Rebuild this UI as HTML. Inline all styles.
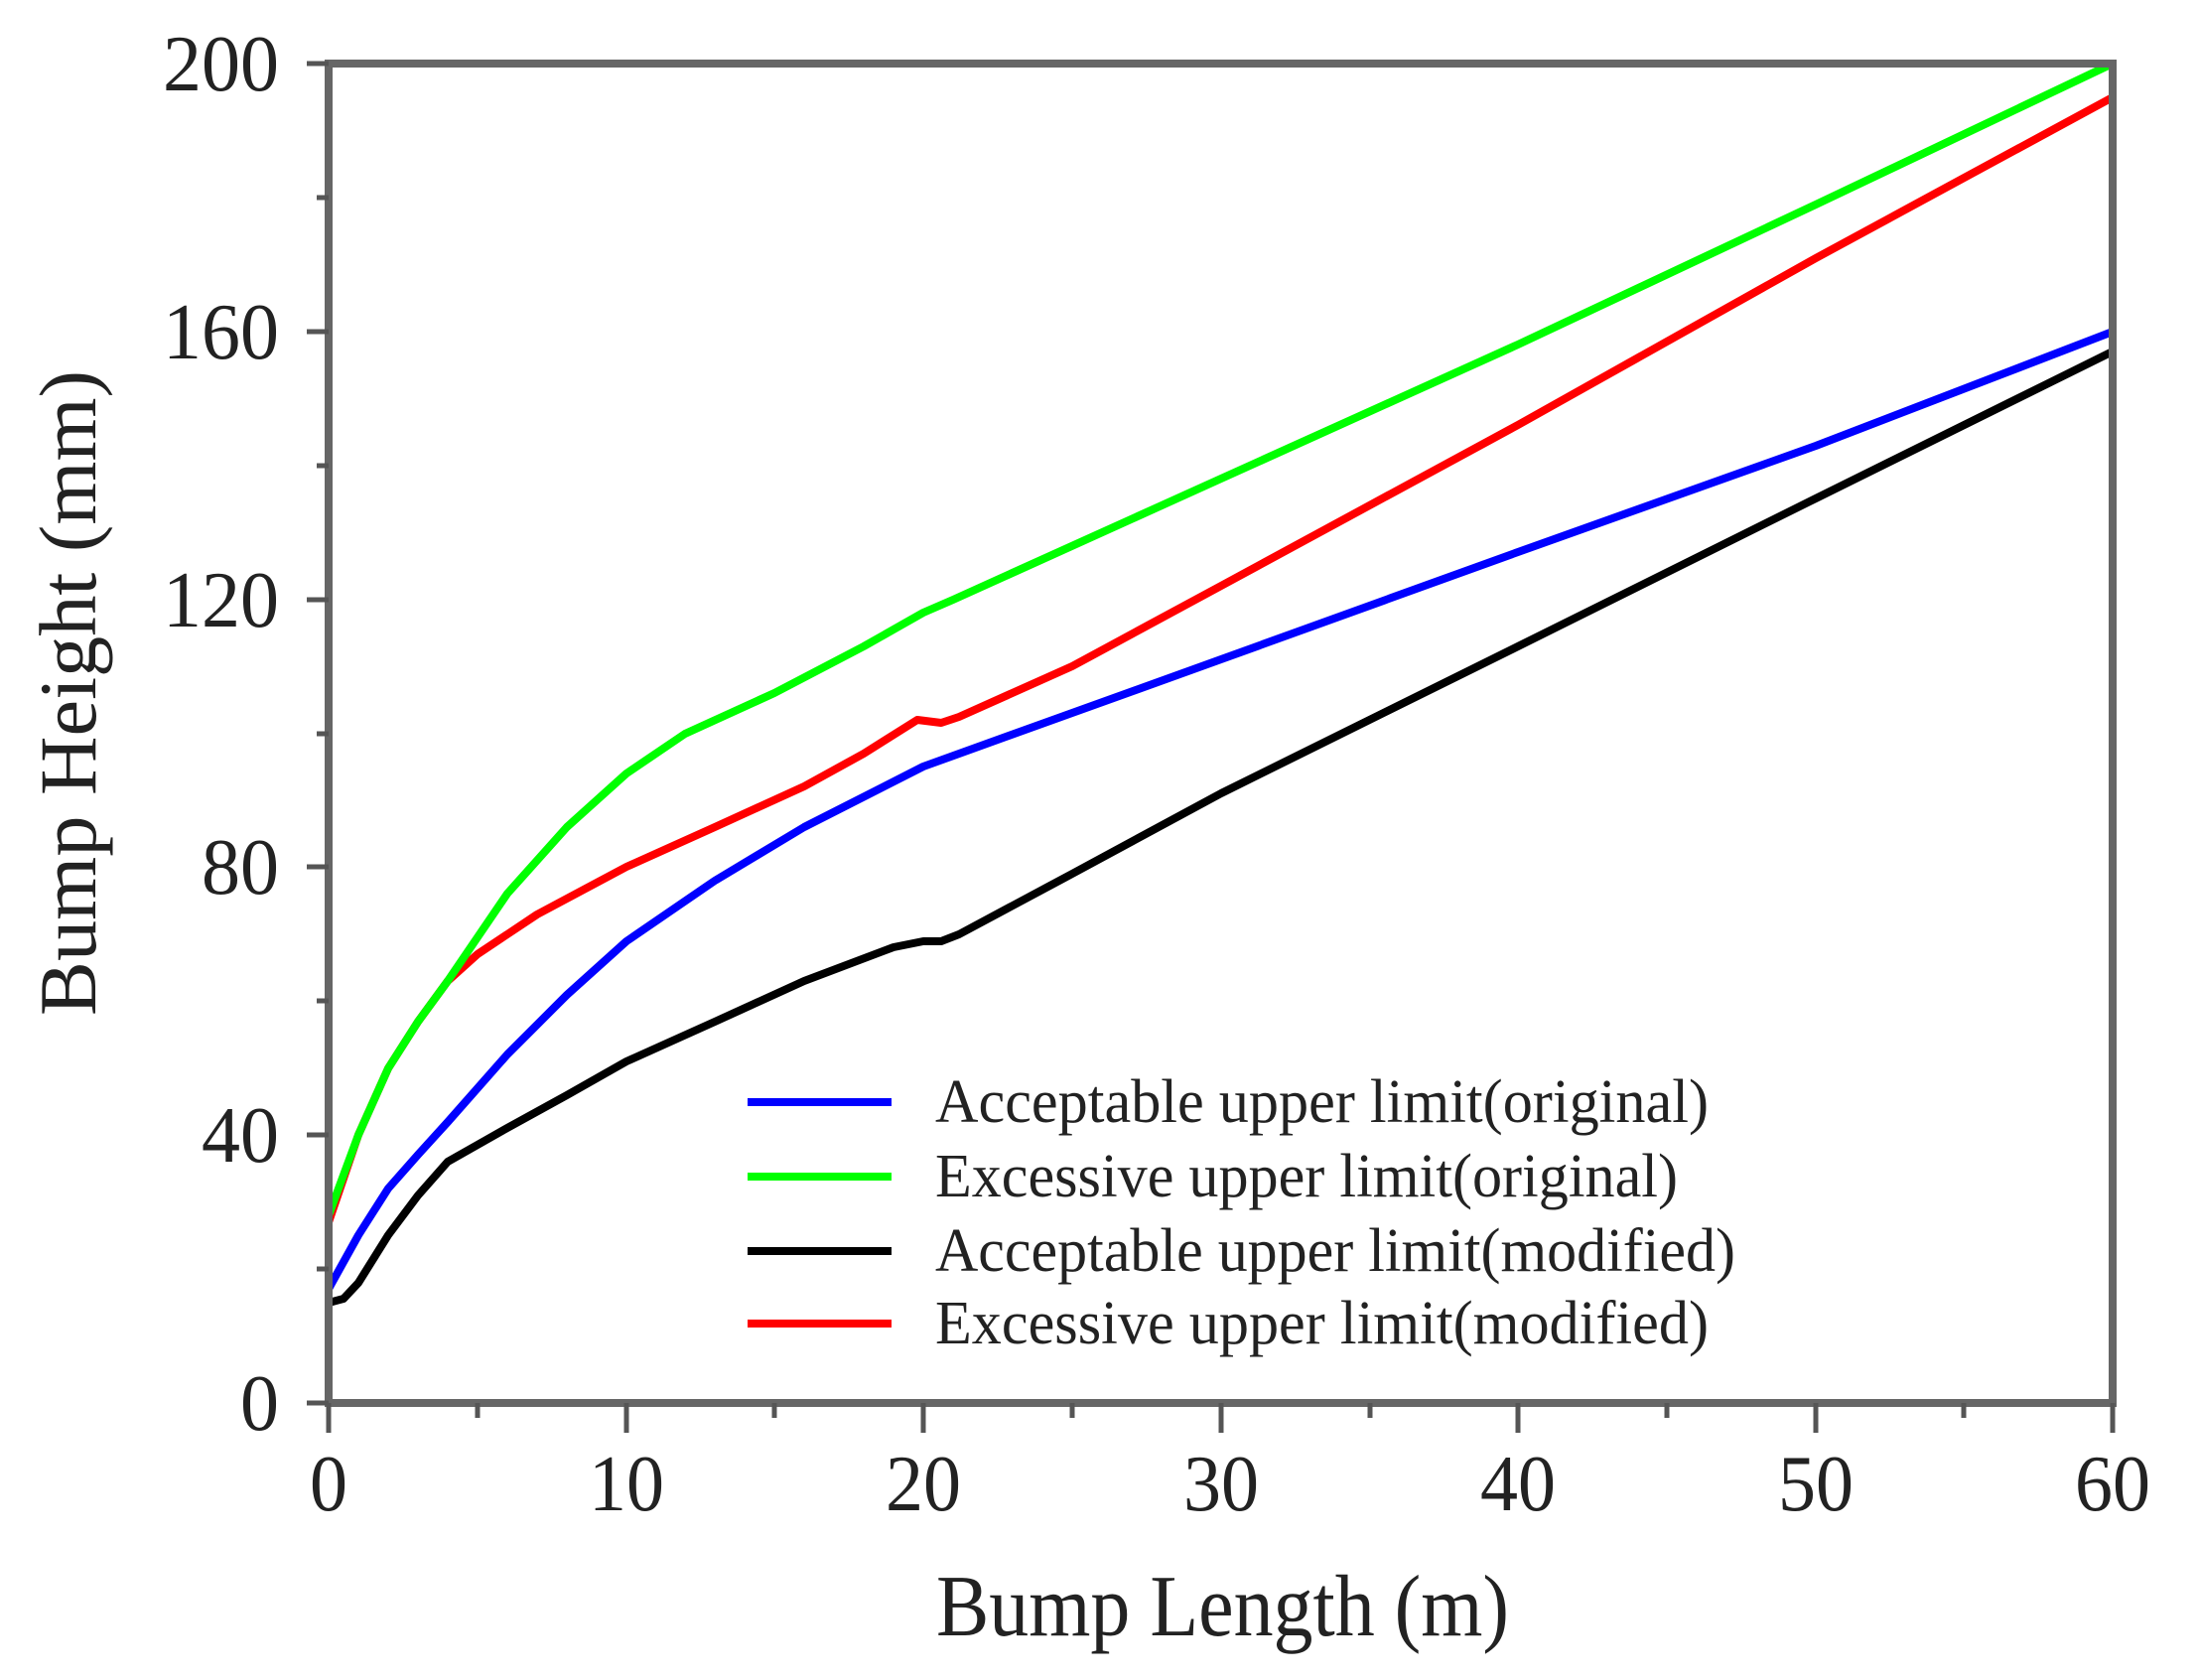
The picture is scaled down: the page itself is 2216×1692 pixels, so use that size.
<!DOCTYPE html>
<html><head><meta charset="utf-8"><style>
html,body{margin:0;padding:0;background:#fff;}
svg{display:block;}
text{font-family:"Liberation Serif",serif;fill:#222;}
</style></head><body>
<svg width="2216" height="1692" viewBox="0 0 2216 1692" xmlns="http://www.w3.org/2000/svg">
<rect width="2216" height="1692" fill="#fff"/>
<g fill="none" stroke-width="8" stroke-linejoin="round" stroke-linecap="round">
<path stroke="#0000ff" d="M331 1298 L361 1244 L391 1197 L421 1163 L451 1130 L511 1062 L571 1002 L631 948 L720 887 L810 833 L930 772 L1080 718 L1230 664 L1529 556 L1829 449 L2128 334"/>
<path stroke="#000000" d="M331 1312 L346 1308 L361 1292 L391 1244 L421 1204 L451 1170 L511 1136 L571 1103 L631 1069 L720 1029 L810 988 L900 954 L930 948 L948 948 L966 941 L1080 880 L1230 799 L1529 651 L1829 502 L2128 354"/>
<path stroke="#ff0000" d="M331 1231 L361 1143 L391 1076 L421 1029 L451 988 L481 961 L541 921 L631 873 L720 833 L810 792 L870 759 L924 725 L948 728 L966 722 L1080 671 L1230 590 L1529 428 L1829 260 L2128 98"/>
<path stroke="#00ff00" d="M331 1224 L361 1143 L391 1076 L421 1029 L451 988 L511 900 L571 833 L631 779 L690 739 L780 698 L870 651 L930 617 L960 604 L1230 482 L1529 347 L1829 206 L2128 64"/>
</g>
<rect x="331" y="64" width="1797" height="1349" fill="none" stroke="#666" stroke-width="8"/>
<g stroke="#555" stroke-width="5">
<line x1="331" y1="1413" x2="331" y2="1443"/><line x1="631" y1="1413" x2="631" y2="1443"/><line x1="930" y1="1413" x2="930" y2="1443"/><line x1="1230" y1="1413" x2="1230" y2="1443"/><line x1="1529" y1="1413" x2="1529" y2="1443"/><line x1="1829" y1="1413" x2="1829" y2="1443"/><line x1="2128" y1="1413" x2="2128" y2="1443"/>
<line x1="481" y1="1413" x2="481" y2="1428"/><line x1="780" y1="1413" x2="780" y2="1428"/><line x1="1080" y1="1413" x2="1080" y2="1428"/><line x1="1380" y1="1413" x2="1380" y2="1428"/><line x1="1679" y1="1413" x2="1679" y2="1428"/><line x1="1978" y1="1413" x2="1978" y2="1428"/>
<line x1="331" y1="1413" x2="309" y2="1413"/><line x1="331" y1="1143" x2="309" y2="1143"/><line x1="331" y1="873" x2="309" y2="873"/><line x1="331" y1="604" x2="309" y2="604"/><line x1="331" y1="334" x2="309" y2="334"/><line x1="331" y1="64" x2="309" y2="64"/>
<line x1="331" y1="1278" x2="319" y2="1278"/><line x1="331" y1="1008" x2="319" y2="1008"/><line x1="331" y1="739" x2="319" y2="739"/><line x1="331" y1="469" x2="319" y2="469"/><line x1="331" y1="199" x2="319" y2="199"/>
</g>
<g font-size="80" text-anchor="middle">
<text x="331" y="1521" textLength="38" lengthAdjust="spacingAndGlyphs">0</text>
<text x="631" y="1521" textLength="76" lengthAdjust="spacingAndGlyphs">10</text>
<text x="930" y="1521" textLength="76" lengthAdjust="spacingAndGlyphs">20</text>
<text x="1230" y="1521" textLength="76" lengthAdjust="spacingAndGlyphs">30</text>
<text x="1529" y="1521" textLength="76" lengthAdjust="spacingAndGlyphs">40</text>
<text x="1829" y="1521" textLength="76" lengthAdjust="spacingAndGlyphs">50</text>
<text x="2128" y="1521" textLength="76" lengthAdjust="spacingAndGlyphs">60</text>
</g>
<g font-size="80" text-anchor="end">
<text x="281" y="1440" textLength="39" lengthAdjust="spacingAndGlyphs">0</text>
<text x="281" y="1170" textLength="78" lengthAdjust="spacingAndGlyphs">40</text>
<text x="281" y="900" textLength="78" lengthAdjust="spacingAndGlyphs">80</text>
<text x="281" y="631" textLength="117" lengthAdjust="spacingAndGlyphs">120</text>
<text x="281" y="361" textLength="117" lengthAdjust="spacingAndGlyphs">160</text>
<text x="281" y="91" textLength="117" lengthAdjust="spacingAndGlyphs">200</text>
</g>
<text x="943" y="1647" font-size="88" textLength="577" lengthAdjust="spacingAndGlyphs">Bump Length (m)</text>
<text x="0" y="0" font-size="82" text-anchor="middle" textLength="650" lengthAdjust="spacingAndGlyphs" transform="translate(96,698) rotate(-90)">Bump Height (mm)</text>
<g stroke-width="8">
<line x1="753" y1="1110" x2="898" y2="1110" stroke="#0000ff"/>
<line x1="753" y1="1185" x2="898" y2="1185" stroke="#00ff00"/>
<line x1="753" y1="1260" x2="898" y2="1260" stroke="#000000"/>
<line x1="753" y1="1333" x2="898" y2="1333" stroke="#ff0000"/>
</g>
<g font-size="62">
<text x="942" y="1130" textLength="779" lengthAdjust="spacingAndGlyphs">Acceptable upper limit(original)</text>
<text x="942" y="1205" textLength="748" lengthAdjust="spacingAndGlyphs">Excessive upper limit(original)</text>
<text x="942" y="1280" textLength="806" lengthAdjust="spacingAndGlyphs">Acceptable upper limit(modified)</text>
<text x="942" y="1353" textLength="779" lengthAdjust="spacingAndGlyphs">Excessive upper limit(modified)</text>
</g>
</svg>
</body></html>
